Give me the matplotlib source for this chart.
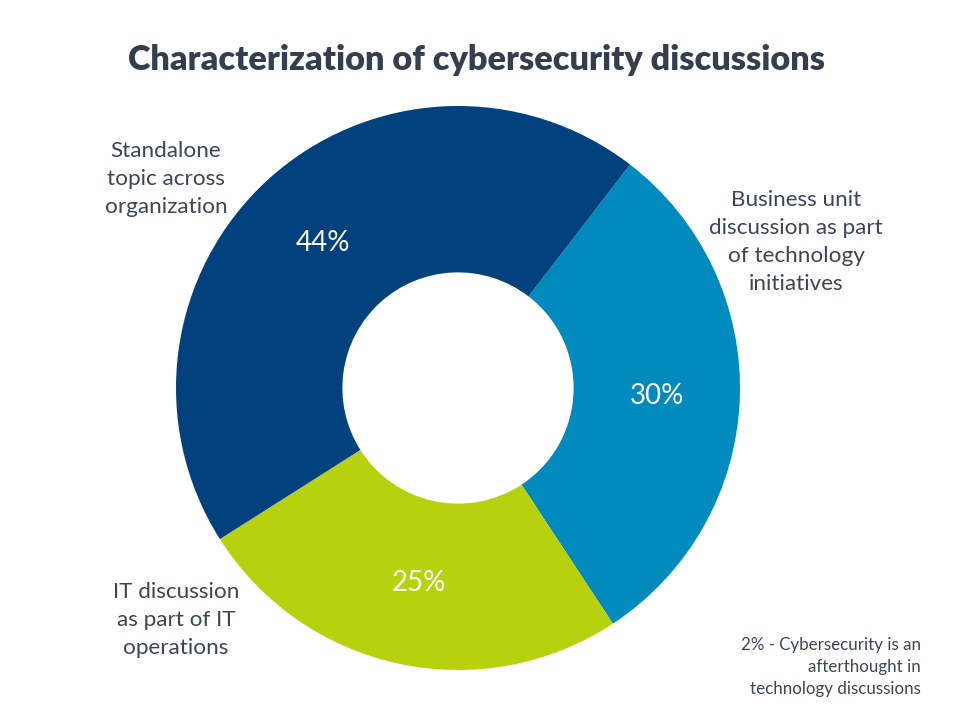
import matplotlib
matplotlib.use("Agg")
import matplotlib.pyplot as plt

# Data
categories = ["Business unit\ndiscussion as part\nof technology\ninitiatives",
              "IT discussion\nas part of IT\noperations",
              "Standalone\ntopic across\norganization"]
values = [30, 25, 44]
pct_labels = ["30%", "25%", "44%"]
colors = ["#008ABD", "#B7D10F", "#00417E"]
note_value = 2
note_text = "Cybersecurity is an\nafterthought in\ntechnology discussions"
title = "Characterization of cybersecurity discussions"

plt.rcParams['font.family'] = ['Lato', 'DejaVu Sans']
text_color = "#3B4656"

fig = plt.figure(figsize=(9.6, 7.2), dpi=100)
ax = fig.add_axes([0, 0, 1, 1])
ax.set_xlim(0, 960)
ax.set_ylim(0, 720)
ax.set_aspect('equal')
ax.axis('off')

H = 720
cx, cy, R = 458, H - 388, 282
wedges, _ = ax.pie(values, colors=colors, startangle=52.4, counterclock=False,
                   center=(cx, cy), radius=R,
                   wedgeprops=dict(width=R * 0.59, linewidth=0))
ax.set_xlim(0, 960)
ax.set_ylim(0, 720)

# percentage labels
pct_pos = [(657, 396), (419, 583), (323, 243)]
for (x, y), t in zip(pct_pos, pct_labels):
    ax.text(x, H - y, t, color="white", fontsize=20, ha="center", va="center")

# category labels
cat_pos = [(796, 242), (176, 620), (166, 179)]
for (x, y), t in zip(cat_pos, categories):
    ax.text(x, H - y, t, color=text_color, fontsize=16.2, ha="center", va="center",
            linespacing=1.52)

ax.text(921, H - 667, f"{note_value}% - {note_text}", color=text_color, fontsize=12.2,
        ha="right", va="center", linespacing=1.48)

ax.text(476, H - 60, title, color="#333F4F", fontsize=24.7, fontweight="heavy",
        ha="center", va="center")

fig.savefig("out.png", dpi=100)
